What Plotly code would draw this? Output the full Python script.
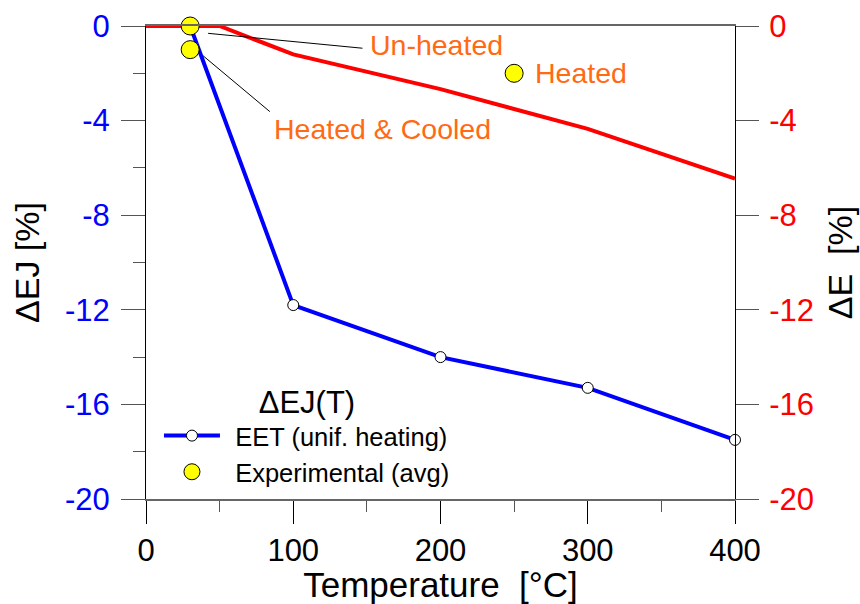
import plotly.graph_objects as go

FONT = "Liberation Sans, Arial, sans-serif"

# EET model (uniform heating), change of EJ [%] vs temperature
temp_eet = [30, 100, 200, 300, 400]
dej_eet = [0.0, -11.8, -14.0, -15.3, -17.5]

# change of E [%] vs temperature (right axis)
temp_e = [0, 50, 100, 200, 300, 400]
de_e = [0.0, 0.0, -1.2, -2.67, -4.35, -6.45]

# experimental averages
temp_exp = [30, 30, 250]
d_exp = [0.0, -1.0, -2.0]
exp_labels = ["Un-heated", "Heated & Cooled", "Heated"]

x_ticks = [0, 100, 200, 300, 400]
y_ticks = [0, -4, -8, -12, -16, -20]

fig = go.Figure()

fig.add_trace(go.Scatter(
    x=temp_eet, y=dej_eet, mode="lines+markers", name="\u2009\u2009EET (unif. heating)",
    line=dict(color="#0000FF", width=4),
    marker=dict(symbol="circle", size=11, color="white", line=dict(color="black", width=1)),
    cliponaxis=False, yaxis="y",
))
fig.add_trace(go.Scatter(
    x=temp_e, y=de_e, mode="lines", showlegend=False,
    line=dict(color="#FF0000", width=4), cliponaxis=False, yaxis="y2",
))
fig.add_trace(go.Scatter(
    x=temp_exp, y=d_exp, mode="markers", name="\u2009\u2009Experimental (avg)",
    marker=dict(symbol="circle", size=18, color="#FFFF00", line=dict(color="black", width=1)),
    cliponaxis=False, yaxis="y2",
))

ORANGE = "#FF6A13"
# annotation texts (layout positions in data units)
ann_pos = [(151, -0.8), (85.5, -4.34), (263, -2.0)]
for (ax_, ay_), txt in zip(ann_pos, exp_labels):
    fig.add_annotation(x=ax_, y=ay_, xref="x", yref="y2", text=txt, showarrow=False,
                       xanchor="left", yanchor="middle",
                       font=dict(family=FONT, size=28.5, color=ORANGE))
# leader lines
fig.add_shape(type="line", xref="x", yref="y2", x0=42.2, y0=-0.31, x1=147, y1=-0.94,
              line=dict(color="black", width=1))
fig.add_shape(type="line", xref="x", yref="y2", x0=38.8, y0=-1.26, x1=84.1, y1=-3.62,
              line=dict(color="black", width=1))

fig.update_layout(
    width=860, height=604,
    margin=dict(l=146, r=125, t=26, b=104.5, autoexpand=False),
    paper_bgcolor="white", plot_bgcolor="white",
    font=dict(family=FONT, color="black"),
    showlegend=True,
    legend=dict(
        x=0.022, y=0.268, xanchor="left", yanchor="top",
        bgcolor="rgba(0,0,0,0)", borderwidth=0,
        font=dict(family=FONT, size=25.5, color="black"),
        title=dict(text="\u0394EJ(T)", side="top center", font=dict(family=FONT, size=31, color="black")),
        itemwidth=56, tracegroupgap=0,
    ),
    xaxis=dict(
        range=[0, 400], tickvals=x_ticks, ticktext=[str(v) for v in x_ticks],
        showgrid=False, zeroline=False,
        showline=True, linecolor="#666666", linewidth=1.5, mirror=True,
        ticks="outside", ticklen=23, tickcolor="black", tickwidth=1,
        minor=dict(dtick=50, tick0=0, ticks="outside", ticklen=11, tickcolor="#555555", tickwidth=1),
        tickfont=dict(family=FONT, size=31, color="black"),
        ticklabelstandoff=0,
        title=dict(text="Temperature\u00a0 [\u00b0C]", font=dict(family=FONT, size=35, color="black")),
    ),
    yaxis=dict(
        range=[-20, 0], tickvals=y_ticks, ticktext=[str(v) for v in y_ticks],
        showgrid=False, zeroline=False,
        showline=True, linecolor="black", linewidth=1,
        ticks="outside", ticklen=24, tickcolor="#555555", tickwidth=1,
        minor=dict(dtick=2, tick0=0, ticks="outside", ticklen=12, tickcolor="#555555", tickwidth=1),
        tickfont=dict(family=FONT, size=31, color="#0000FF"),
        ticklabelstandoff=5,
        title=dict(text="\u0394EJ [%]", font=dict(family=FONT, size=34, color="black")),
    ),
    yaxis2=dict(
        range=[-20, 0], tickvals=y_ticks, ticktext=[str(v) for v in y_ticks],
        overlaying="y", side="right", anchor="x",
        showgrid=False, zeroline=False,
        showline=True, linecolor="black", linewidth=1,
        ticks="outside", ticklen=23, tickcolor="#555555", tickwidth=1,
        tickfont=dict(family=FONT, size=31, color="#FF0000"),
        ticklabelstandoff=4,
        title=dict(text="\u0394E\u00a0 [%]", font=dict(family=FONT, size=34, color="black")),
    ),
)

fig.write_html("out.html")
